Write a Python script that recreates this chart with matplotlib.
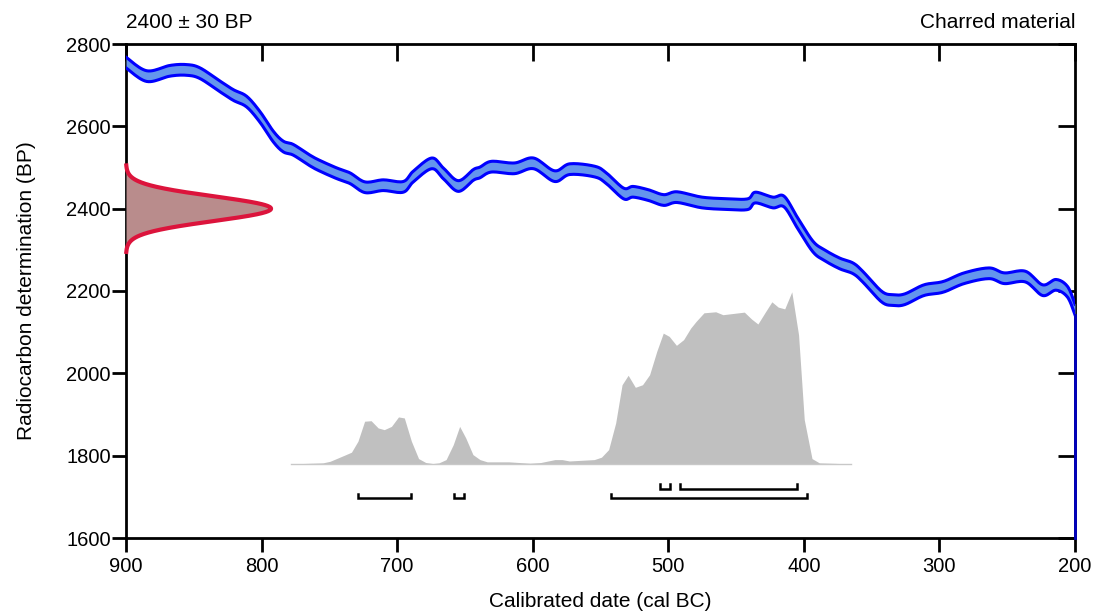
import numpy as np
import matplotlib
matplotlib.use("Agg")
import matplotlib.pyplot as plt

plt.rcParams['font.family'] = ['Liberation Sans', 'DejaVu Sans']

# ---- data ----
title_left = "2400 \u00b1 30 BP"
title_right = "Charred material"
xlabel = "Calibrated date (cal BC)"
ylabel = "Radiocarbon determination (BP)"
x_ticks = [900, 800, 700, 600, 500, 400, 300, 200]
y_ticks = [1600, 1800, 2000, 2200, 2400, 2600, 2800]

# radiocarbon determination
c14_mean = 2400
c14_sd = 30

# calibration curve (cal BC, BP)
curve_years = [900, 884.7, 867.5, 855.2, 845.4, 830.7, 820.8, 811.0, 801.2, 791.3,
               784.0, 776.6, 764.3, 756.9, 744.6, 734.8, 723.7, 710.2, 695.5, 688.1,
               674.5, 666.0, 654.9, 643.8, 638.9, 630.4, 613.5, 599.3, 583.9, 572.6,
               554.2, 545.7, 533.0, 525.9, 514.7, 503.4, 493.5, 475.1, 455.4, 441.3,
               435.7, 422.9, 414.5, 404.6, 393.3, 384.8, 373.6, 363.7, 356.6, 342.5,
               334.0, 325.5, 311.4, 297.3, 281.8, 263.4, 252.1, 236.6, 223.9, 214.0,
               205.5, 200]
curve_bp = [2755, 2722, 2735, 2737, 2729, 2697, 2676, 2660, 2623, 2575,
            2551, 2543, 2517, 2504, 2486, 2474, 2452, 2457, 2453, 2478,
            2510, 2486, 2455, 2482, 2488, 2502, 2498, 2510, 2479, 2496,
            2490, 2474, 2437, 2441, 2433, 2421, 2428, 2415, 2411, 2411,
            2427, 2415, 2417, 2365, 2308, 2287, 2267, 2255, 2235, 2186,
            2178, 2180, 2202, 2210, 2231, 2243, 2231, 2235, 2202, 2215,
            2198, 2155]
curve_sigma = 13

# posterior probability (cal BC, relative probability)
post_years = [778.5, 754.8, 749.5, 739.0, 733.7, 728.9, 724.0, 719.2, 714.0, 709.5,
              704.2, 699.0, 694.7, 689.5, 684.2, 678.9, 673.6, 669.2, 663.9, 658.6,
              653.9, 649.4, 644.1, 638.9, 633.6, 617.8, 602.0, 594.1, 583.6, 578.3,
              573.0, 554.6, 549.3, 544.0, 538.8, 534.1, 529.6, 524.3, 519.0, 513.8,
              508.5, 503.7, 499.3, 494.0, 488.7, 483.5, 479.5, 473.7, 465.0, 459.7,
              443.9, 438.6, 433.9, 428.6, 423.6, 418.9, 414.1, 408.9, 403.9, 399.7,
              394.0, 388.6, 365.0]
post_prob = [0, 0.006, 0.015, 0.050, 0.068, 0.132, 0.248, 0.251, 0.209, 0.199,
             0.218, 0.273, 0.267, 0.132, 0.031, 0.008, 0.002, 0.006, 0.025, 0.112,
             0.218, 0.151, 0.054, 0.025, 0.012, 0.012, 0.004, 0.008, 0.025, 0.025,
             0.017, 0.025, 0.039, 0.083, 0.238, 0.460, 0.515, 0.445, 0.460, 0.518,
             0.654, 0.760, 0.741, 0.689, 0.722, 0.789, 0.828, 0.878, 0.884, 0.867,
             0.882, 0.842, 0.813, 0.880, 0.942, 0.911, 0.901, 1.000, 0.750, 0.257,
             0.031, 0.006, 0]

# highest probability ranges (cal BC)
range_68 = [(506, 499), (491, 405)]
range_95 = [(729, 690), (658, 651), (542, 398)]


def catmull_rom(x, y, n=12):
    x = np.asarray(x, float)
    y = np.asarray(y, float)
    P = np.column_stack([x, y])
    P = np.vstack([P[0], P, P[-1]])
    out = []
    for i in range(1, len(P) - 2):
        p0, p1, p2, p3 = P[i - 1], P[i], P[i + 1], P[i + 2]
        t = np.linspace(0, 1, n, endpoint=False)[:, None]
        seg = 0.5 * ((2 * p1) + (-p0 + p2) * t + (2 * p0 - 5 * p1 + 4 * p2 - p3) * t ** 2
                     + (-p0 + 3 * p1 - 3 * p2 + p3) * t ** 3)
        out.append(seg)
    out.append(P[-2][None, :])
    out = np.vstack(out)
    return out[:, 0], out[:, 1]


# ---- figure ----
fig = plt.figure(figsize=(10.93, 6.13), dpi=100)
ax = fig.add_axes([126/1093, 1 - 538/613, (1075-126)/1093, (538-44)/613])
ax.set_xlim(900, 200)
ax.set_ylim(1600, 2800)

# calibration curve band
sx, sy = catmull_rom(curve_years, curve_bp)
ax.fill_between(sx, sy - curve_sigma, sy + curve_sigma, color='#6495ED', lw=0, zorder=3)
ax.plot(sx, sy - curve_sigma, color='#0000FF', lw=2.2, zorder=4, solid_joinstyle='round')
ax.plot(sx, sy + curve_sigma, color='#0000FF', lw=2.2, zorder=4, solid_joinstyle='round')
ax.plot([200, 200], [1600, curve_bp[-1] - curve_sigma], color='#0000C0', lw=2.0, zorder=6,
        clip_on=False)

# radiocarbon determination distribution on the y axis
yy = np.linspace(c14_mean - 3.5 * c14_sd, c14_mean + 3.5 * c14_sd, 300)
dens = np.exp(-0.5 * ((yy - c14_mean) / c14_sd) ** 2)
amp = 107
xx = 900 - amp * dens
ax.fill_betweenx(yy, 900, xx, color='#B98C8C', lw=0, zorder=3)
ax.plot(xx, yy, color='#DC143C', lw=3.0, zorder=4, clip_on=False)

# posterior distribution
base = 1780
height = 418
py_ = np.array(post_years)
pp = np.array(post_prob)
ax.fill_between(py_, base, base + pp * height, color='#C0C0C0', lw=0, zorder=2)
ax.plot(py_, base + pp * 0, color='#C8C8C8', lw=1.0, zorder=2)


def brackets(ranges, y, tick=12):
    for a, b in ranges:
        ax.plot([a, a, b, b], [y + tick, y, y, y + tick], color='black', lw=1.8,
                zorder=5, solid_joinstyle='miter')


brackets(range_68, 1720)
brackets(range_95, 1696)

# axes styling
for s in ax.spines.values():
    s.set_linewidth(2.0)
ax.set_xticks(x_ticks)
ax.set_yticks(y_ticks)
ax.tick_params(axis='x', which='major', bottom=True, top=True, direction='out', length=10,
               width=2, labelsize=14.5, pad=4)
ax.tick_params(axis='y', which='major', left=True, right=True, direction='out', length=10,
               width=2, labelsize=14.5, pad=1)
# top / right ticks inward
for t in ax.xaxis.get_major_ticks():
    t.tick2line.set_marker(3)  # TICKDOWN
    t.tick2line.set_markersize(12)
for t in ax.yaxis.get_major_ticks():
    t.tick2line.set_marker(0)  # TICKLEFT
    t.tick2line.set_markersize(12)

ax.set_xlabel(xlabel, fontsize=15, labelpad=11)
ax.set_ylabel(ylabel, fontsize=15, labelpad=22)
ax.text(0.0, 1.025, title_left, transform=ax.transAxes, ha='left', va='bottom', fontsize=15)
ax.text(1.0, 1.025, title_right, transform=ax.transAxes, ha='right', va='bottom', fontsize=15)

fig.savefig("out.png", dpi=100)
